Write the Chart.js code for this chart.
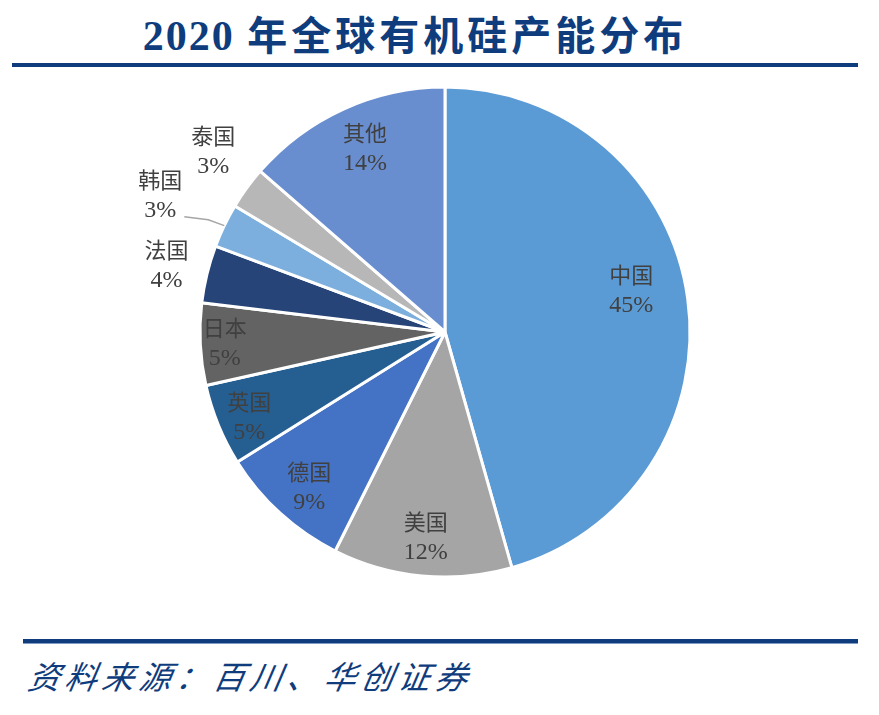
<!DOCTYPE html>
<html>
<head>
<meta charset="utf-8">
<script src="https://cdn.jsdelivr.net/npm/chart.js@4.4.0/dist/chart.umd.min.js"></script>
<style>
    html, body { margin: 0; padding: 0; background: #fff; overflow: hidden; }
    body { width: 879px; height: 715px; position: relative; }
    .title {
        position: absolute; left: 0; top: 4px; width: 830px; text-align: center;
        font-family: 'Liberation Serif', 'Noto Sans CJK SC', serif; font-weight: bold;
        font-size: 42px; color: #0f3c7c; letter-spacing: 2px;
    }
    .title .cn { font-family: 'Noto Sans CJK SC', sans-serif; font-size: 40px; letter-spacing: 4px; }
    .rule { position: absolute; background: #0f3c7c; }
    .source {
        position: absolute; left: 25px; top: 652px;
        font-family: 'Noto Sans CJK SC', sans-serif; font-style: italic;
        font-size: 32px; letter-spacing: 5px; color: #0f3c7c;
        transform: skewX(-10deg); transform-origin: left bottom;
    }
    #wrap { position: absolute; left: 0; top: 82px; width: 879px; height: 500px; }
</style>
</head>
<body>
<div class="title">2020 <span class="cn">年全球有机硅产能分布</span></div>
<div class="rule" style="left:12px; top:63px; width:846px; height:4px;"></div>
<div id="wrap"><canvas id="pie"></canvas></div>
<div class="rule" style="left:23px; top:639px; width:835px; height:4px;"></div>
<div class="rule" style="left:23px; top:643px; width:835px; height:1px; background:#7f9cc4;"></div>
<div class="source">资料来源：百川、华创证券</div>

<script>
    const countries = ['中国', '美国', '德国', '英国', '日本', '法国', '韩国', '泰国', '其他'];
    const shares = [45.6, 11.8, 8.7, 5.4, 5.4, 3.8, 2.9, 2.8, 13.6];
    const percentLabels = ['45%', '12%', '9%', '5%', '5%', '4%', '3%', '3%', '14%'];

    const sliceColors = ['#5b9bd5', '#a5a5a5', '#4472c4', '#255e91', '#636363',
                         '#264478', '#7cafdd', '#b7b7b7', '#698ed0'];

    // label placement: fraction of radius, extra angle (deg)
    const labelRadius = [0.78, 0.84, 0.84, 0.87, 0.90, 1.17, 1.29, 1.20, 0.82];
    const labelShift = [-5, 0, -1, -1, 0, 0, 0, 2, 1];

    const sliceLabels = {
        id: 'sliceLabels',
        afterDatasetsDraw: function(chart) {
            const ctx = chart.ctx;
            const arcs = chart.getDatasetMeta(0).data;
            ctx.save();
            ctx.textAlign = 'center';
            ctx.textBaseline = 'middle';
            ctx.fillStyle = '#404040';
            arcs.forEach(function(arc, i) {
                const p = arc.getProps(['x', 'y', 'startAngle', 'endAngle', 'outerRadius'], true);
                const a = (p.startAngle + p.endAngle) / 2 + labelShift[i] * Math.PI / 180;
                const lx = p.x + Math.cos(a) * p.outerRadius * labelRadius[i];
                const ly = p.y + Math.sin(a) * p.outerRadius * labelRadius[i] - 15;

                ctx.font = '22px "Noto Sans CJK SC", sans-serif';
                ctx.fillText(countries[i], lx, ly);
                ctx.font = '24px "Liberation Serif", serif';
                ctx.fillText(percentLabels[i], lx, ly + 31);

                // leader line for the small Korea slice
                if (countries[i] === '韩国') {
                    ctx.strokeStyle = '#a6a6a6';
                    ctx.lineWidth = 1.5;
                    ctx.beginPath();
                    ctx.moveTo(lx + 24, ly + 37);
                    ctx.lineTo(lx + 48, ly + 40);
                    ctx.lineTo(p.x + Math.cos(a) * p.outerRadius, p.y + Math.sin(a) * p.outerRadius);
                    ctx.stroke();
                }
            });
            ctx.restore();
        }
    };

    new Chart(document.getElementById('pie'), {
        type: 'pie',
        data: {
            labels: countries,
            datasets: [{
                data: shares,
                backgroundColor: sliceColors,
                borderColor: '#ffffff',
                borderWidth: 3
            }]
        },
        options: {
            responsive: true,
            maintainAspectRatio: false,
            animation: false,
            radius: 245,
            layout: { padding: { left: 11 } },
            plugins: {
                legend: { display: false },
                tooltip: { enabled: false }
            }
        },
        plugins: [sliceLabels]
    });
</script>
</body>
</html>
